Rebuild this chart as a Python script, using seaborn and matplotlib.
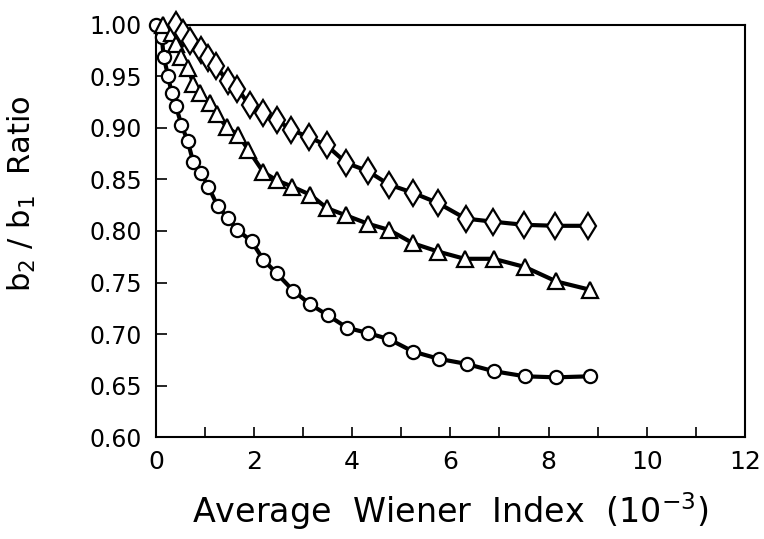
import numpy as np
import pandas as pd
import seaborn as sns
from matplotlib import pyplot as plt
from matplotlib.ticker import MultipleLocator

sns.set_style("ticks")
plt.rcParams["font.family"] = ["DejaVu Sans"]
plt.rcParams["text.color"] = "black"
plt.rcParams["axes.labelcolor"] = "black"
plt.rcParams["xtick.labelcolor"] = "black"
plt.rcParams["ytick.labelcolor"] = "black"

# values
circle_x = [0.01, 0.12, 0.16, 0.25, 0.32, 0.41, 0.52, 0.65, 0.76, 0.92, 1.07, 1.26, 1.46, 1.66, 1.95,
            2.19, 2.46, 2.80, 3.14, 3.51, 3.90, 4.32, 4.75, 5.24, 5.76, 6.33, 6.88, 7.52, 8.15, 8.84]
circle_y = [1.000, 0.988, 0.969, 0.950, 0.934, 0.921, 0.903, 0.887, 0.867, 0.856, 0.843, 0.824, 0.813, 0.801, 0.790,
            0.772, 0.759, 0.742, 0.729, 0.718, 0.706, 0.701, 0.695, 0.683, 0.676, 0.671, 0.664, 0.659, 0.658, 0.659]

triangle_x = [0.15, 0.32, 0.42, 0.52, 0.66, 0.76, 0.90, 1.10, 1.24, 1.44, 1.68, 1.88, 2.19, 2.47,
              2.78, 3.15, 3.49, 3.88, 4.32, 4.75, 5.24, 5.75, 6.29, 6.88, 7.52, 8.16, 8.84]
triangle_y = [1.000, 0.992, 0.981, 0.969, 0.958, 0.943, 0.934, 0.924, 0.913, 0.901, 0.893, 0.879, 0.857, 0.849,
              0.843, 0.835, 0.822, 0.815, 0.807, 0.801, 0.788, 0.780, 0.773, 0.773, 0.765, 0.751, 0.743]

diamond_x = [0.42, 0.56, 0.69, 0.92, 1.07, 1.22, 1.47, 1.66, 1.91, 2.19, 2.46, 2.76, 3.12, 3.48,
             3.88, 4.32, 4.75, 5.24, 5.75, 6.31, 6.87, 7.49, 8.14, 8.80]
diamond_y = [1.000, 0.992, 0.984, 0.976, 0.968, 0.960, 0.945, 0.938, 0.922, 0.914, 0.908, 0.898, 0.891, 0.883,
             0.866, 0.858, 0.845, 0.837, 0.827, 0.812, 0.809, 0.806, 0.805, 0.805]

series = [
    (circle_x, circle_y, "o", 9.5),
    (triangle_x, triangle_y, "^", 11.5),
    (diamond_x, diamond_y, "d", 13),
]

fig = plt.figure(figsize=(7.64, 5.39), dpi=100)
ax = fig.add_axes([0.204, 0.189, 0.771, 0.765])

for xs, ys, marker, ms in series:
    df = pd.DataFrame({"wiener": xs, "ratio": ys})
    sns.lineplot(ax=ax, data=df, x="wiener", y="ratio", color="black", lw=3,
                 marker=marker, ms=ms, mfc="white", mec="black", mew=1.6,
                 clip_on=False, zorder=3)

ax.set_xlim(0, 12)
ax.set_ylim(0.60, 1.00)
ax.xaxis.set_major_locator(MultipleLocator(2))
ax.xaxis.set_minor_locator(MultipleLocator(1))
ax.yaxis.set_major_locator(MultipleLocator(0.05))
ax.yaxis.set_major_formatter(lambda v, p: f"{v:.2f}")

ax.tick_params(axis="both", which="both", direction="in", color="black", width=1.2)
ax.tick_params(axis="x", which="both", length=7, pad=9, labelsize=18)
ax.tick_params(axis="y", which="major", length=8, pad=10, labelsize=17)
for s in ax.spines.values():
    s.set_linewidth(1.5)
    s.set_color("black")

ax.set_xlabel("Average  Wiener  Index  (10$^{-3}$)", fontsize=24, labelpad=12)
ax.set_ylabel("b$_2$ / b$_1$  Ratio", fontsize=22)
ax.yaxis.set_label_coords(-0.20, 0.59)

plt.savefig("out.png", dpi=100)
